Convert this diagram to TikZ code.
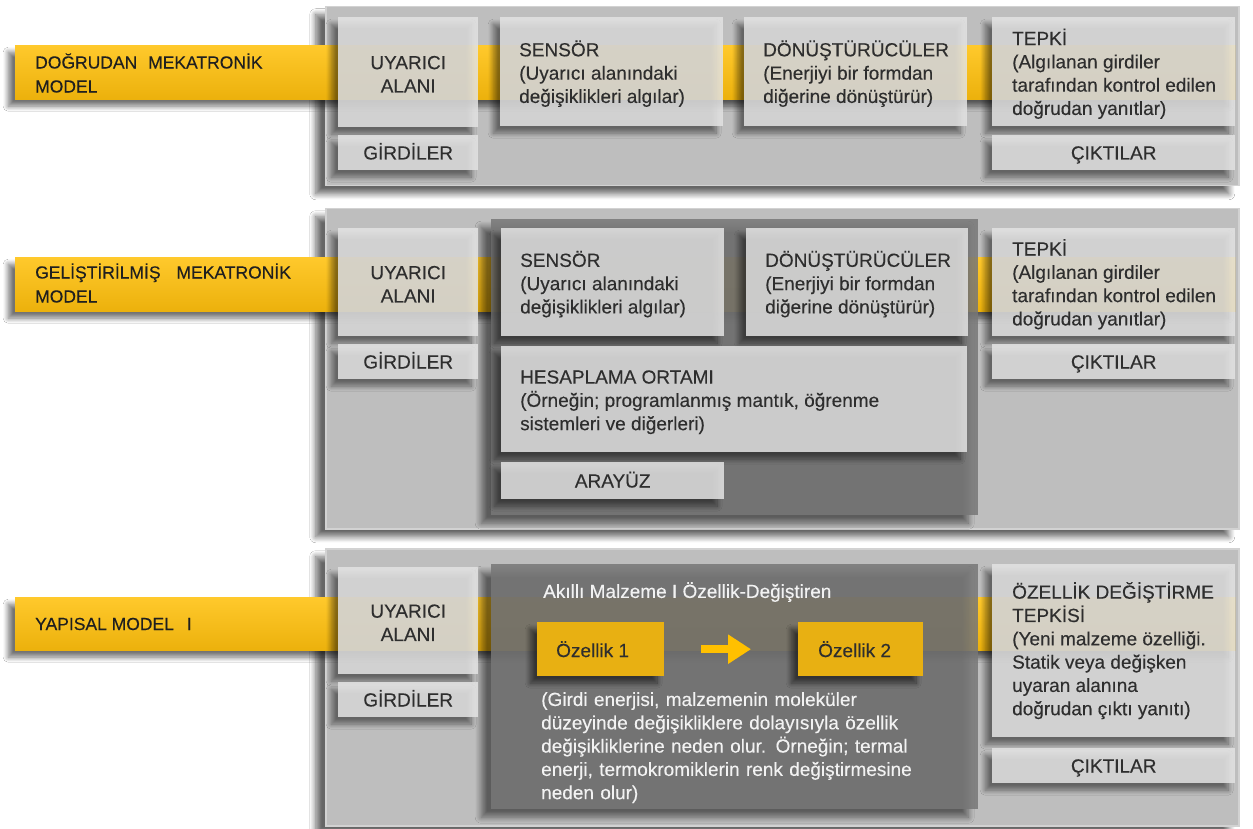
\documentclass[tikz,border=0pt]{standalone}
\usepackage{fontspec}
\setmainfont{Liberation Sans}[FakeBold=0.25]
\usetikzlibrary{shadows.blur,arrows.meta}
\definecolor{panelgray}{HTML}{BEBEBE}
\definecolor{paneledge}{HTML}{D2D2D2}
\definecolor{bandtop}{HTML}{FFC92C}
\definecolor{bandbot}{HTML}{ECB10C}
\definecolor{boxgray}{HTML}{E3E3E3}
\definecolor{darkpanel}{HTML}{777777}
\definecolor{ozyellow}{HTML}{E8B012}
\definecolor{arrowyellow}{HTML}{FFC000}
\definecolor{txtdark}{HTML}{2E2E2E}
\definecolor{txtlight}{HTML}{F2F2F2}
\begin{document}
\begin{tikzpicture}[x=1pt,y=-1pt,
  shd/.style={blur shadow={shadow xshift=-7pt, shadow yshift=-7pt, shadow blur radius=5pt, shadow blur steps=10, shadow opacity=55}},
  pshd/.style={blur shadow={shadow xshift=-10pt, shadow yshift=-8pt, shadow blur radius=6pt, shadow blur steps=10, shadow opacity=60}},
  panel/.style={pshd, fill=panelgray, draw=paneledge, line width=1.5pt, anchor=north west, inner sep=0pt},
  band/.style={shd, top color=bandtop, bottom color=bandbot, draw=none, anchor=north west, inner sep=0pt},
  dark/.style={pshd, fill=darkpanel, fill opacity=0.86, draw=none, anchor=north west, inner sep=0pt},
  box/.style={shd, fill=boxgray, fill opacity=0.86, draw=none, anchor=north west, inner sep=0pt, text opacity=1},
  ybox/.style={shd, fill=ozyellow, draw=none, anchor=north west, inner sep=0pt},
  txt/.style={inner sep=0pt, text=txtdark, align=left, font=\fontsize{19}{23.3}\selectfont},
  ctxt/.style={txt, align=center},
  one/.style={txt, anchor=base},
  wtxt/.style={txt, text=txtlight},
  lbl/.style={txt, text=black!88, font=\fontsize{17.5}{24}\selectfont}
]
\useasboundingbox (0,0) rectangle (1253,829);
\fill[white] (0,0) rectangle (1253,829);

% ---------- Panel 1 ----------
\node[panel, minimum width=913pt, minimum height=179pt] (p1) at (325,6) {};
\node[band, minimum width=1220pt, minimum height=54pt] (b1) at (15,45) {};
\node[lbl, anchor=west] (l1) at (35,73) {DOĞRUDAN\hspace{6pt} MEKATRONİK\\MODEL};
\node[box, minimum width=140pt, minimum height=110pt] (uya1) at (338,17) {};
\node[box, minimum width=140pt, minimum height=35pt] (gir1) at (338,135) {};
\node[box, minimum width=223pt, minimum height=109pt] (sen1) at (500,17) {};
\node[box, minimum width=223pt, minimum height=109pt] (don1) at (744,17) {};
\node[box, minimum width=243pt, minimum height=109pt] (tep1) at (992,17) {};
\node[box, minimum width=243pt, minimum height=35pt] (cik1) at (992,135) {};
\node[ctxt] (uya1t) at ([yshift=-2pt]uya1.center) {UYARICI\\ALANI};
\node[one] (gir1t) at ([yshift=-6.8pt]gir1.center) {GİRDİLER};
\node[txt, anchor=west] (sen1t) at ([xshift=19pt,yshift=-2pt]sen1.west) {SENSÖR\\(Uyarıcı alanındaki\\değişiklikleri algılar)};
\node[txt, anchor=west] (don1t) at ([xshift=19pt,yshift=-2pt]don1.west) {DÖNÜŞTÜRÜCÜLER\\(Enerjiyi bir formdan\\diğerine dönüştürür)};
\node[txt, anchor=west] (tep1t) at ([xshift=20pt,yshift=-2pt]tep1.west) {TEPKİ\\(Algılanan girdiler\\tarafından kontrol edilen\\doğrudan yanıtlar)};
\node[one] (cik1t) at ([yshift=-6.8pt]cik1.center) {ÇIKTILAR};

% ---------- Panel 2 ----------
\node[panel, minimum width=913pt, minimum height=320pt] (p2) at (325,208) {};
\node[band, minimum width=1220pt, minimum height=54pt] (b2) at (15,257) {};
\node[lbl, anchor=west] (l2) at (35,283) {GELİŞTİRİLMİŞ\hspace{11pt} MEKATRONİK\\MODEL};
\node[dark, minimum width=487pt, minimum height=296pt] (d2) at (491,219) {};
\node[box, minimum width=140pt, minimum height=108pt] (uya2) at (338,228) {};
\node[box, minimum width=140pt, minimum height=35pt] (gir2) at (338,344) {};
\node[box, minimum width=223pt, minimum height=108pt] (sen2) at (501,228) {};
\node[box, minimum width=222pt, minimum height=108pt] (don2) at (746,228) {};
\node[box, minimum width=466pt, minimum height=106pt] (hes2) at (501,346) {};
\node[box, minimum width=223pt, minimum height=37pt] (ara2) at (501,462) {};
\node[box, minimum width=243pt, minimum height=108pt] (tep2) at (992,228) {};
\node[box, minimum width=243pt, minimum height=35pt] (cik2) at (992,344) {};
\node[ctxt] (uya2t) at ([yshift=-2pt]uya2.center) {UYARICI\\ALANI};
\node[one] (gir2t) at ([yshift=-6.8pt]gir2.center) {GİRDİLER};
\node[txt, anchor=west] (sen2t) at ([xshift=19pt,yshift=-2pt]sen2.west) {SENSÖR\\(Uyarıcı alanındaki\\değişiklikleri algılar)};
\node[txt, anchor=west] (don2t) at ([xshift=19pt,yshift=-2pt]don2.west) {DÖNÜŞTÜRÜCÜLER\\(Enerjiyi bir formdan\\diğerine dönüştürür)};
\node[txt, anchor=west] (hes2t) at ([xshift=19pt,yshift=-3pt]hes2.west) {HESAPLAMA ORTAMI\\(Örneğin; programlanmış mantık, öğrenme\\sistemleri ve diğerleri)};
\node[one] (ara2t) at ([yshift=-6.8pt]ara2.center) {ARAYÜZ};
\node[txt, anchor=west] (tep2t) at ([xshift=20pt,yshift=-2pt]tep2.west) {TEPKİ\\(Algılanan girdiler\\tarafından kontrol edilen\\doğrudan yanıtlar)};
\node[one] (cik2t) at ([yshift=-6.8pt]cik2.center) {ÇIKTILAR};

% ---------- Panel 3 ----------
\node[panel, minimum width=913pt, minimum height=277pt] (p3) at (325,548) {};
\node[band, minimum width=1220pt, minimum height=53pt] (b3) at (15,597) {};
\node[lbl, anchor=west] (l3) at (35,624) {YAPISAL MODEL\hspace{8pt} I};
\node[dark, minimum width=487pt, minimum height=245pt] (d3) at (491,564) {};
\node[box, minimum width=140pt, minimum height=107pt] (uya3) at (338,567) {};
\node[box, minimum width=140pt, minimum height=35pt] (gir3) at (338,682) {};
\node[box, minimum width=243pt, minimum height=173pt] (ozd3) at (992,564) {};
\node[box, minimum width=243pt, minimum height=35pt] (cik3) at (992,748) {};
\node[ybox, minimum width=127pt, minimum height=54pt] (oz1) at (537,622) {};
\node[ybox, minimum width=125pt, minimum height=54pt] (oz2) at (798,622) {};
\node[ctxt] (uya3t) at ([yshift=-2pt]uya3.center) {UYARICI\\ALANI};
\node[one] (gir3t) at ([yshift=-6.8pt]gir3.center) {GİRDİLER};
\node[txt, anchor=west] (ozd3t) at ([xshift=20pt]ozd3.west) {ÖZELLİK DEĞİŞTİRME\\TEPKİSİ\\(Yeni malzeme özelliği.\\Statik veya değişken\\uyaran alanına\\doğrudan çıktı yanıtı)};
\node[one] (cik3t) at ([yshift=-6.8pt]cik3.center) {ÇIKTILAR};
\node[wtxt, anchor=west] (title3) at (543,592) {Akıllı Malzeme I Özellik-Değiştiren};
\node[txt, anchor=west] (oz1t) at ([xshift=19pt]oz1.west) {Özellik 1};
\node[txt, anchor=west] (oz2t) at ([xshift=20pt]oz2.west) {Özellik 2};
\draw[arrowyellow, line width=8pt, -{Triangle[length=23pt,width=28pt]}] ([xshift=37pt]oz1.east) -- ([xshift=-47pt]oz2.west);
\node[wtxt, anchor=north west, text width=383pt] (body3) at (541,692) {%
\makebox[383pt][s]{(Girdi enerjisi, malzemenin moleküler}\\
\makebox[383pt][s]{düzeyinde değişikliklere dolayısıyla özellik}\\
\makebox[383pt][s]{değişikliklerine neden olur. Örneğin; termal}\\
\makebox[383pt][s]{enerji, termokromiklerin renk değiştirmesine}\\
neden olur)};
\end{tikzpicture}
\end{document}
